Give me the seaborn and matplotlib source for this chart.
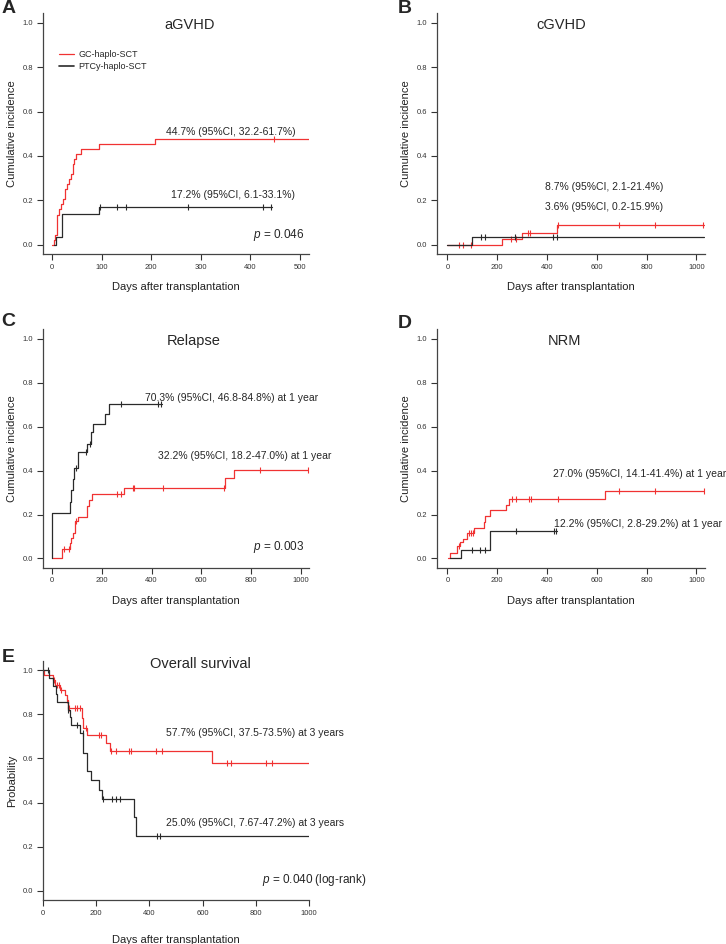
import numpy as np
import matplotlib
matplotlib.use('Agg')
import matplotlib.pyplot as plt
from matplotlib.lines import Line2D
import seaborn as sns

sns.set_theme(style='ticks')
plt.rcParams['font.family'] = ['Liberation Sans', 'DejaVu Sans']
plt.rcParams['mathtext.fontset'] = 'custom'
plt.rcParams['mathtext.rm'] = 'Liberation Sans'
plt.rcParams['mathtext.it'] = 'Liberation Sans:italic'

RED = '#f03232'
BLACK = '#2a2a2a'

# ---------------- data ----------------
# A: aGVHD
a_red_t = [0, 4, 7, 11, 14, 18, 22, 26, 30, 34, 38, 42, 45, 48, 58, 94, 208]
a_red_v = [0, 0.023, 0.045, 0.136, 0.159, 0.182, 0.205, 0.250, 0.273, 0.295,
           0.318, 0.364, 0.386, 0.409, 0.432, 0.455, 0.477]
a_red_end = 518
a_red_cens = [448]
a_blk_t = [5, 8, 20, 95]
a_blk_v = [0, 0.034, 0.138, 0.172]
a_blk_end = 443
a_blk_cens = [97, 132, 150, 275, 426, 441]

# B: cGVHD
b_red_t = [0, 219, 298, 441]
b_red_v = [0, 0.027, 0.054, 0.087]
b_red_end = 1030
b_red_cens = [48, 61, 95, 255, 275, 325, 332, 444, 688, 833, 1028]
b_blk_t = [0, 99]
b_blk_v = [0, 0.036]
b_blk_end = 1030
b_blk_cens = [134, 150, 273, 424, 439]

# C: Relapse
c_red_t = [0, 41, 73, 77, 84, 92, 103, 142, 150, 160, 291, 697, 733]
c_red_v = [0, 0.045, 0.07, 0.094, 0.118, 0.17, 0.19, 0.24, 0.265, 0.293,
           0.32, 0.365, 0.405]
c_red_end = 1032
c_red_cens = [48, 66, 97, 260, 276, 327, 331, 445, 692, 836, 1031]
c_blk_t = [0, 1, 70, 76, 83, 90, 103, 139, 157, 163, 214, 229]
c_blk_v = [0, 0.208, 0.255, 0.31, 0.36, 0.41, 0.486, 0.523, 0.576, 0.613,
           0.658, 0.703]
c_blk_end = 444
c_blk_cens = [96, 135, 153, 277, 428, 437]

# D: NRM
d_red_t = [4, 12, 40, 50, 62, 80, 106, 145, 151, 172, 235, 247, 631]
d_red_v = [0, 0.023, 0.055, 0.075, 0.09, 0.115, 0.14, 0.165, 0.195, 0.22,
           0.245, 0.27, 0.308]
d_red_end = 1032
d_red_cens = [46, 88, 95, 101, 258, 276, 329, 335, 446, 690, 835, 1030]
d_blk_t = [11, 55, 169]
d_blk_v = [0, 0.037, 0.123]
d_blk_end = 442
d_blk_cens = [98, 131, 149, 276, 426, 435]

# E: Overall survival
e_red_t = [0, 6, 37, 46, 65, 84, 90, 96, 146, 152, 167, 237, 252, 634]
e_red_v = [1, 0.977, 0.955, 0.932, 0.909, 0.886, 0.864, 0.83, 0.785, 0.74,
           0.705, 0.67, 0.635, 0.577]
e_red_end = 1000
e_red_cens = [44, 55, 62, 69, 92, 99, 121, 130, 140, 162, 212, 218, 256, 275,
              325, 331, 424, 446, 690, 705, 836, 862]
e_blk_t = [0, 25, 37, 50, 52, 94, 102, 106, 140, 152, 165, 180, 212, 222, 341, 351]
e_blk_v = [1, 0.964, 0.929, 0.893, 0.857, 0.821, 0.786, 0.75, 0.714, 0.625,
           0.542, 0.5, 0.458, 0.417, 0.333, 0.25]
e_blk_end = 1000
e_blk_cens = [19, 96, 130, 150, 227, 261, 274, 290, 427, 440]


def km(ax, t, v, end, cens, color):
    x = list(t) + [end]
    y = list(v) + [v[-1]]
    sns.lineplot(x=x, y=y, drawstyle='steps-post', color=color, lw=0.9,
                 estimator=None, sort=False, ax=ax)
    idx = np.searchsorted(t, cens, side='right') - 1
    yc = np.array(v)[idx]
    ax.plot(cens, yc, ls='none', marker='|', ms=5, mew=0.8, color=color)


def style(ax, xlim, xticks, ylabel, xpad=8):
    ax.set_xlim(*xlim)
    ax.set_ylim(-0.042, 1.043)
    ax.set_xticks(xticks)
    ax.set_yticks([0, 0.2, 0.4, 0.6, 0.8, 1.0])
    ax.set_yticklabels(['0.0', '0.2', '0.4', '0.6', '0.8', '1.0'])
    ax.tick_params(labelsize=5.5, length=4, width=0.8, colors='#333333', pad=3)
    for s in ['top', 'right']:
        ax.spines[s].set_visible(False)
    for s in ['left', 'bottom']:
        ax.spines[s].set_linewidth(0.9)
        ax.spines[s].set_color('#444444')
    ax.set_ylabel(ylabel, fontsize=8, labelpad=4, color='#222222')
    ax.set_xlabel('Days after transplantation', fontsize=8, labelpad=xpad,
                  color='#222222')


fig = plt.figure(figsize=(7.26, 9.44), dpi=100)
axA = fig.add_axes([0.0592, 0.7309, 0.3664, 0.2550])
axB = fig.add_axes([0.6019, 0.7309, 0.3687, 0.2550])
axC = fig.add_axes([0.0588, 0.3986, 0.3672, 0.2525])
axD = fig.add_axes([0.6019, 0.3986, 0.3687, 0.2525])
axE = fig.add_axes([0.0588, 0.0466, 0.3672, 0.2535])

# A
km(axA, a_red_t, a_red_v, a_red_end, a_red_cens, RED)
km(axA, a_blk_t, a_blk_v, a_blk_end, a_blk_cens, BLACK)
style(axA, (-18, 518), range(0, 501, 100), 'Cumulative incidence')
axA.text(0.553, 0.95, 'aGVHD', transform=axA.transAxes, ha='center', va='center', fontsize=10.5)
handles = [Line2D([], [], color=RED, lw=0.9), Line2D([], [], color=BLACK, lw=1.2)]
axA.legend(handles, ['GC-haplo-SCT', 'PTCy-haplo-SCT'], loc='upper left',
           bbox_to_anchor=(0.03, 0.88), frameon=False, fontsize=6.5,
           handlelength=1.6, handletextpad=0.5, labelspacing=0.3)
axA.text(361, 0.508, '44.7% (95%CI, 32.2-61.7%)', ha='center', va='center', fontsize=7.5)
axA.text(365, 0.226, '17.2% (95%CI, 6.1-33.1%)', ha='center', va='center', fontsize=7.5)
axA.text(508, 0.045, r'$\it{p}$ = 0.046', ha='right', va='center', fontsize=8.5)

# B
km(axB, b_red_t, b_red_v, b_red_end, b_red_cens, RED)
km(axB, b_blk_t, b_blk_v, b_blk_end, b_blk_cens, BLACK)
style(axB, (-42, 1033), range(0, 1001, 200), 'Cumulative incidence')
axB.text(0.465, 0.95, 'cGVHD', transform=axB.transAxes, ha='center', va='center', fontsize=10.5)
axB.text(629, 0.26, '8.7% (95%CI, 2.1-21.4%)', ha='center', va='center', fontsize=7.5)
axB.text(629, 0.17, '3.6% (95%CI, 0.2-15.9%)', ha='center', va='center', fontsize=7.5)

# C
km(axC, c_red_t, c_red_v, c_red_end, c_red_cens, RED)
km(axC, c_blk_t, c_blk_v, c_blk_end, c_blk_cens, BLACK)
style(axC, (-38, 1035), range(0, 1001, 200), 'Cumulative incidence')
axC.text(0.565, 0.95, 'Relapse', transform=axC.transAxes, ha='center', va='center', fontsize=10.5)
axC.text(724, 0.731, '70.3% (95%CI, 46.8-84.8%) at 1 year', ha='center', va='center', fontsize=7.5)
axC.text(775, 0.466, '32.2% (95%CI, 18.2-47.0%) at 1 year', ha='center', va='center', fontsize=7.5)
axC.text(1013, 0.054, r'$\it{p}$ = 0.003', ha='right', va='center', fontsize=8.5)

# D
km(axD, d_red_t, d_red_v, d_red_end, d_red_cens, RED)
km(axD, d_blk_t, d_blk_v, d_blk_end, d_blk_cens, BLACK)
style(axD, (-42, 1033), range(0, 1001, 200), 'Cumulative incidence')
axD.text(0.478, 0.95, 'NRM', transform=axD.transAxes, ha='center', va='center', fontsize=10.5)
axD.text(424, 0.385, '27.0% (95%CI, 14.1-41.4%) at 1 year', ha='left', va='center', fontsize=7.5)
axD.text(427, 0.158, '12.2% (95%CI, 2.8-29.2%) at 1 year', ha='left', va='center', fontsize=7.5)

# E
km(axE, e_red_t, e_red_v, e_red_end, e_red_cens, RED)
km(axE, e_blk_t, e_blk_v, e_blk_end, e_blk_cens, BLACK)
style(axE, (0, 1000), range(0, 1001, 200), 'Probability', xpad=13)
axE.text(590, 1.027, 'Overall survival', ha='center', va='center', fontsize=10.5)
axE.text(461, 0.714, '57.7% (95%CI, 37.5-73.5%) at 3 years', ha='left', va='center', fontsize=7.5)
axE.text(461, 0.305, '25.0% (95%CI, 7.67-47.2%) at 3 years', ha='left', va='center', fontsize=7.5)
axE.text(821, 0.05, r'$\it{p}$ = 0.040 (log-rank)', ha='left', va='center', fontsize=8.5)

# panel letters
for lab, x, y in [('A', 0.002, 1.0), ('B', 0.548, 1.0), ('C', 0.002, 0.668),
                  ('D', 0.548, 0.666), ('E', 0.002, 0.313)]:
    fig.text(x, y, lab, fontsize=14, fontweight='bold', ha='left', va='top')

fig.savefig('out.png', dpi=100)
